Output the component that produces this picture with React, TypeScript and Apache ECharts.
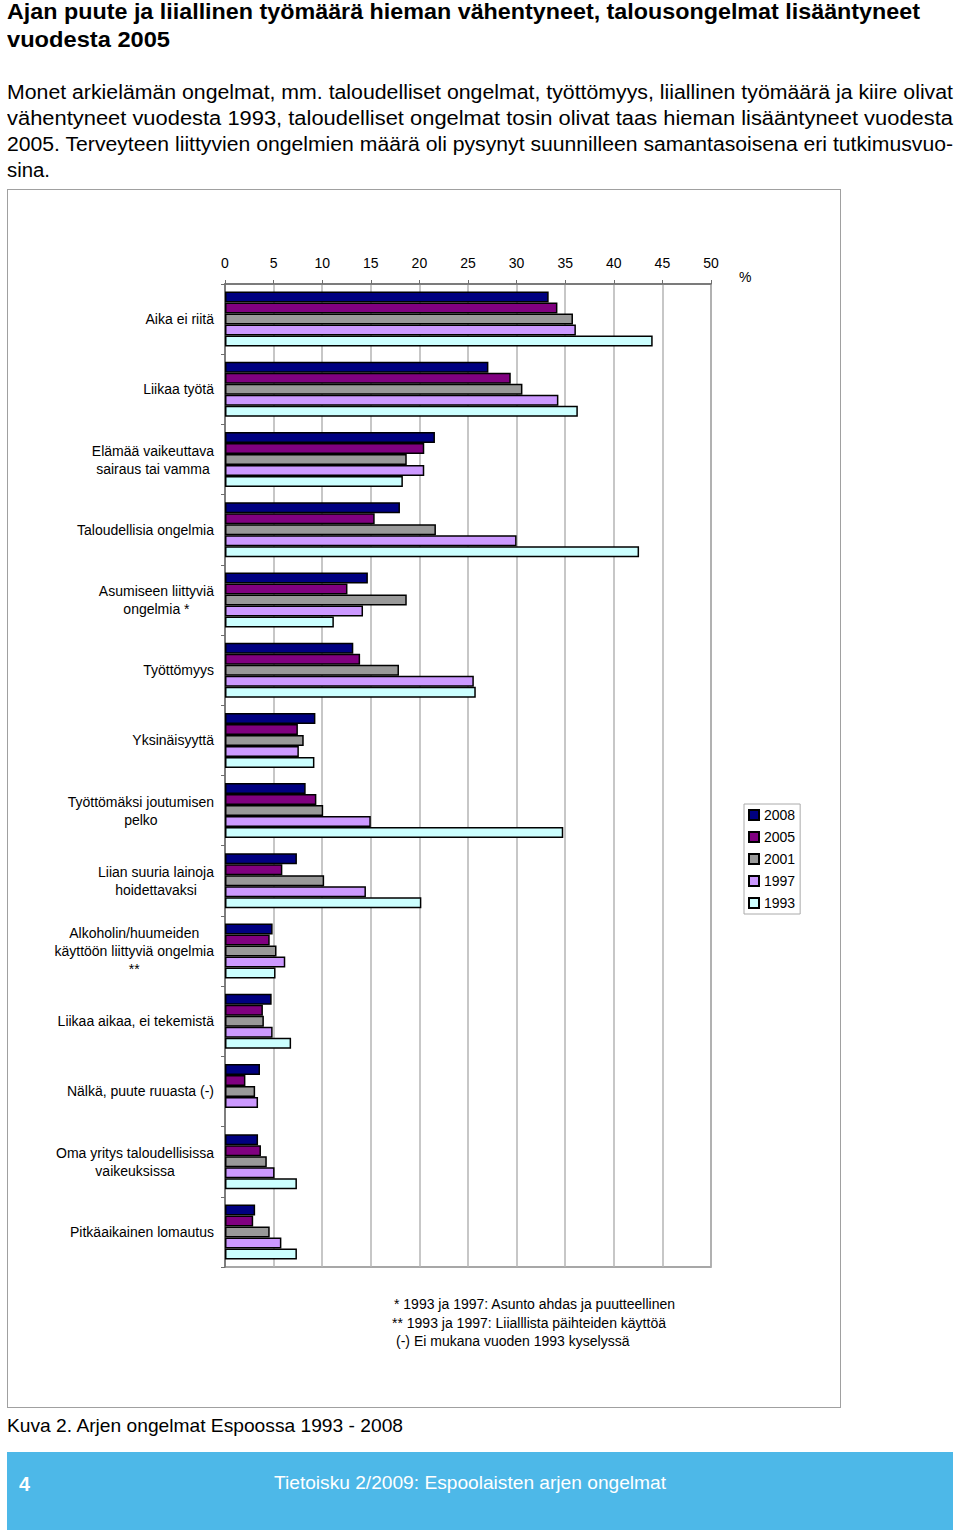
import React, { useEffect, useLayoutEffect, useRef } from "react";
import * as echarts from "echarts";

const categories = [
  "Aika ei riitä",
  "Liikaa työtä",
  "Elämää vaikeuttava\nsairaus tai vamma",
  "Taloudellisia ongelmia",
  "Asumiseen liittyviä\nongelmia *",
  "Työttömyys",
  "Yksinäisyyttä",
  "Työttömäksi joutumisen\npelko",
  "Liian suuria lainoja\nhoidettavaksi",
  "Alkoholin/huumeiden\nkäyttöön liittyviä ongelmia\n**",
  "Liikaa aikaa, ei tekemistä",
  "Nälkä, puute ruuasta (-)",
  "Oma yritys taloudellisissa\nvaikeuksissa",
  "Pitkäaikainen lomautus",
];

const years = ["2008", "2005", "2001", "1997", "1993"];
const yearColors = ["#000080", "#800080", "#999999", "#cc99ff", "#ccffff"];

const v2008 = [33.3, 27.1, 21.6, 18.0, 14.7, 13.2, 9.3, 8.3, 7.4, 4.9, 4.8, 3.6, 3.4, 3.1];
const v2005 = [34.2, 29.4, 20.5, 15.4, 12.6, 13.9, 7.5, 9.4, 5.9, 4.6, 3.9, 2.1, 3.7, 2.9];
const v2001 = [35.8, 30.6, 18.7, 21.7, 18.7, 17.9, 8.1, 10.1, 10.2, 5.3, 4.0, 3.1, 4.3, 4.6];
const v1997 = [36.1, 34.3, 20.5, 30.0, 14.2, 25.6, 7.6, 15.0, 14.5, 6.2, 4.9, 3.4, 5.1, 5.8];
const v1993 = [44.0, 36.3, 18.3, 42.6, 11.2, 25.8, 9.2, 34.8, 20.2, 5.2, 6.8, null, 7.4, 7.4];
const seriesValues = [v2008, v2005, v2001, v1997, v1993];

const footnotes = [
  "* 1993 ja 1997: Asunto ahdas ja puutteellinen",
  "** 1993 ja 1997: Liialllista päihteiden käyttöä",
  "(-) Ei mukana vuoden 1993 kyselyssä",
];

const titleLines = [
  "Ajan puute ja liiallinen työmäärä hieman vähentyneet, talousongelmat lisääntyneet",
  "vuodesta 2005",
];
const paragraphLines = [
  "Monet arkielämän ongelmat, mm. taloudelliset ongelmat, työttömyys, liiallinen työmäärä ja kiire olivat",
  "vähentyneet vuodesta 1993, taloudelliset ongelmat tosin olivat taas hieman lisääntyneet vuodesta",
  "2005. Terveyteen liittyvien ongelmien määrä oli pysynyt suunnilleen samantasoisena eri tutkimusvuo-",
  "sina.",
];

const FONT = "'Liberation Sans', Arial, Helvetica, sans-serif";

type FitProps = {
  text: string;
  x: number;
  cy: number;
  width: number;
  size: number;
  weight?: number | string;
  color?: string;
};

function FitText({ text, x, cy, width, size, weight = "normal", color = "#000" }: FitProps) {
  const ref = useRef<HTMLSpanElement>(null);
  useLayoutEffect(() => {
    const el = ref.current;
    if (!el) return;
    el.style.transform = "none";
    const w = el.getBoundingClientRect().width;
    if (w > 0) el.style.transform = `scaleX(${width / w})`;
  }, [text, width, size]);
  return (
    <span
      ref={ref}
      style={{
        position: "absolute",
        left: x,
        top: cy - size * 0.6,
        fontSize: size,
        lineHeight: `${size * 1.2}px`,
        whiteSpace: "nowrap",
        transformOrigin: "0 0",
        fontFamily: FONT,
        fontWeight: weight as any,
        color,
      }}
    >
      {text}
    </span>
  );
}

function Chart() {
  const ref = useRef<HTMLDivElement>(null);
  useEffect(() => {
    if (!ref.current) return;
    const chart = echarts.init(ref.current, null, { renderer: "svg" });
    chart.setOption({
      animation: false,
      textStyle: { fontFamily: FONT },
      grid: {
        left: 217,
        top: 94,
        width: 486,
        height: 983,
        show: true,
        borderColor: "#8a8a8a",
        borderWidth: 1.5,
        containLabel: false,
      },
      xAxis: {
        type: "value",
        position: "top",
        min: 0,
        max: 50,
        interval: 5,
        name: "%",
        nameLocation: "end",
        nameGap: 28,
        nameTextStyle: { fontSize: 14, color: "#000", verticalAlign: "bottom" },
        axisLine: { show: true, lineStyle: { color: "#6e6e6e", width: 1.5 } },
        axisTick: { show: true, length: 4, lineStyle: { color: "#6e6e6e" } },
        axisLabel: { fontSize: 14, color: "#000", margin: 14 },
        splitLine: { show: true, lineStyle: { color: "#b5b5b5", width: 1.5 } },
      },
      yAxis: {
        type: "category",
        inverse: true,
        data: categories,
        axisLine: { show: true, lineStyle: { color: "#6e6e6e", width: 1.5 } },
        axisTick: { show: true, length: 4, lineStyle: { color: "#6e6e6e" } },
        axisLabel: {
          margin: 11,
          fontSize: 14,
          color: "#000",
          align: "right",
          formatter: (v: string) =>
            v
              .split("\n")
              .map((l) => `{c|${l}}`)
              .join("\n"),
          rich: {
            c: { align: "center", fontSize: 14, lineHeight: 18, color: "#000", fontFamily: FONT },
          },
        },
        splitLine: { show: false },
      },
      legend: {
        data: years,
        orient: "vertical",
        left: 736,
        top: 614,
        itemWidth: 10,
        itemHeight: 10,
        itemGap: 8,
        padding: [4, 5, 4, 4],
        borderColor: "#aaaaaa",
        borderWidth: 1,
        icon: "rect",
        textStyle: { fontSize: 14, color: "#000", fontFamily: FONT },
      },
      series: years.map((y, i) => ({
        type: "bar",
        name: y,
        data: seriesValues[i],
        barWidth: 11,
        barGap: "0%",
        itemStyle: { color: yearColors[i], borderColor: "#000", borderWidth: 1.5 },
      })),
      graphic: footnotes.map((t, i) => ({
        type: "text",
        left: [386, 384, 388][i],
        top: 1107 + i * 18.5,
        style: { text: t, fontSize: 14, fill: "#000", fontFamily: FONT },
      })),
    });
    return () => chart.dispose();
  }, []);
  return <div ref={ref} style={{ position: "absolute", left: 8, top: 190, width: 832, height: 1216 }} />;
}

export default function App() {
  return (
    <div style={{ position: "absolute", left: 0, top: 0, width: 960, height: 1533, background: "#fff", overflow: "hidden" }}>
      <FitText text={titleLines[0]} x={7} cy={12} width={913} size={22} weight="bold" />
      <FitText text={titleLines[1]} x={7} cy={40} width={163} size={22} weight="bold" />
      <FitText text={paragraphLines[0]} x={7} cy={92} width={946} size={20} />
      <FitText text={paragraphLines[1]} x={7} cy={118} width={946} size={20} />
      <FitText text={paragraphLines[2]} x={7} cy={144} width={946} size={20} />
      <FitText text={paragraphLines[3]} x={7} cy={170} width={43} size={20} />
      <div
        style={{
          position: "absolute",
          left: 7,
          top: 189,
          width: 834,
          height: 1219,
          border: "1px solid #a0a0a0",
          boxSizing: "border-box",
        }}
      />
      <Chart />
      <FitText text="Kuva 2. Arjen ongelmat Espoossa 1993 - 2008" x={7} cy={1426} width={396} size={19} />
      <div style={{ position: "absolute", left: 7, top: 1452, width: 946, height: 78, background: "#4db8e8" }} />
      <FitText text="4" x={19} cy={1484} width={11} size={21} weight="bold" color="#fff" />
      <FitText text="Tietoisku 2/2009: Espoolaisten arjen ongelmat" x={274} cy={1483} width={392} size={19} color="#fff" />
    </div>
  );
}
